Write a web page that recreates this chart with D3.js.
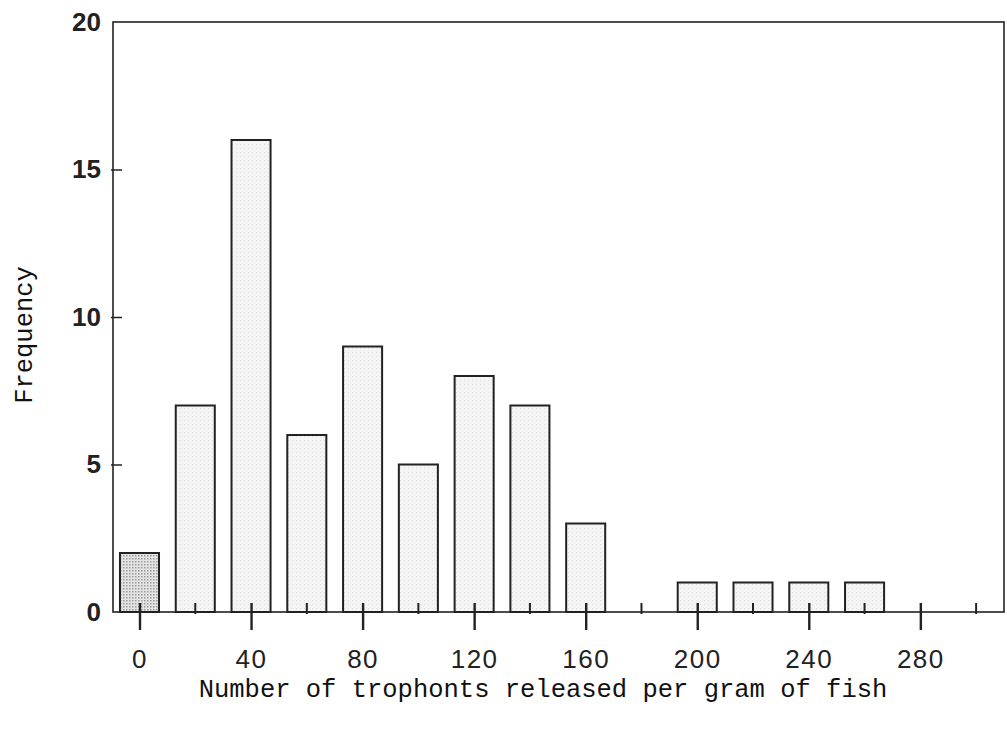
<!DOCTYPE html>
<html><head><meta charset="utf-8">
<script src="https://cdn.jsdelivr.net/npm/d3@7"></script>
<style>body{margin:0;background:#fff}</style>
</head><body>
<svg id="c" width="1007" height="743"></svg>
<script>
const binCenters = [0,20,40,60,80,100,120,140,160,180,200,220,240,260,280,300];
const frequencies = [2,7,16,6,9,5,8,7,3,0,1,1,1,1,0,0];
const majorTicks = [0,40,80,120,160,200,240,280];
const minorTicks = [20,60,100,140,180,220,260,300];
const yTicks = [0,5,10,15,20];

const svg = d3.select("#c");
const x = d3.scaleLinear().domain([-9.5, 310]).range([113, 1004]);
const y = d3.scaleLinear().domain([0, 20]).range([612, 22]);
const barW = x(14) - x(0);

const defs = svg.append("defs");
const p1 = defs.append("pattern").attr("id","dark").attr("width",3).attr("height",3).attr("patternUnits","userSpaceOnUse");
p1.append("rect").attr("width",3).attr("height",3).attr("fill","#e4e4e4");
p1.append("rect").attr("width",1.5).attr("height",1.5).attr("fill","#9a9a9a");
const p2 = defs.append("pattern").attr("id","light").attr("width",4).attr("height",4).attr("patternUnits","userSpaceOnUse");
p2.append("rect").attr("width",4).attr("height",4).attr("fill","#f4f4f4");
p2.append("rect").attr("width",1).attr("height",1).attr("fill","#e0e0e0");

// bars
svg.append("g").selectAll("rect").data(binCenters.map((c,i)=>({c,v:frequencies[i],i})).filter(d=>d.v>0))
  .join("rect")
  .attr("x", d=>x(d.c)-barW/2)
  .attr("y", d=>y(d.v))
  .attr("width", barW)
  .attr("height", d=>y(0)-y(d.v))
  .attr("fill", d=>d.i===0?"url(#dark)":"url(#light)")
  .attr("stroke","#222").attr("stroke-width",2);

// frame
svg.append("rect").attr("x",x.range()[0]).attr("y",y(20)).attr("width",x.range()[1]-x.range()[0]).attr("height",y(0)-y(20))
  .attr("fill","none").attr("stroke","#222").attr("stroke-width",1.6);

// x axis ticks
const xa = svg.append("g").attr("transform",`translate(0,${y(0)})`);
xa.call(d3.axisBottom(x).tickValues(majorTicks).tickSize(0).tickPadding(38).tickFormat(d3.format("d")));
xa.select(".domain").remove();
xa.selectAll("text").attr("font-family","Liberation Sans, Arial, sans-serif").attr("font-size",26).attr("fill","#222").attr("letter-spacing",1.5);
xa.selectAll(".tick").append("line").attr("y1",-9).attr("y2",18).attr("stroke","#222").attr("stroke-width",2.4);
svg.append("g").selectAll("line").data(minorTicks).join("line")
  .attr("x1",d=>x(d)).attr("x2",d=>x(d)).attr("y1",y(0)-9).attr("y2",y(0)+2)
  .attr("stroke","#222").attr("stroke-width",2);

// y axis
const ya = svg.append("g").attr("transform",`translate(${x.range()[0]},0)`);
ya.call(d3.axisLeft(y).tickValues(yTicks).tickSize(0).tickPadding(12).tickFormat(d3.format("d")));
ya.select(".domain").remove();
ya.selectAll("text").attr("font-family","Liberation Sans, Arial, sans-serif").attr("font-size",26).attr("font-weight","bold").attr("fill","#222");
ya.selectAll(".tick").filter(d=>d>0&&d<20).append("line").attr("x1",-2).attr("x2",9).attr("stroke","#222").attr("stroke-width",1.5);

// titles
svg.append("text").attr("x",543).attr("y",697).attr("text-anchor","middle")
  .attr("font-family","Liberation Mono, Courier New, monospace").attr("font-size",25.5).attr("fill","#111")
  .text("Number of trophonts released per gram of fish");
svg.append("text").attr("transform","translate(32,335) rotate(-90)").attr("text-anchor","middle")
  .attr("font-family","Liberation Mono, Courier New, monospace").attr("font-size",25.5).attr("fill","#111")
  .text("Frequency");
</script>
</body></html>
